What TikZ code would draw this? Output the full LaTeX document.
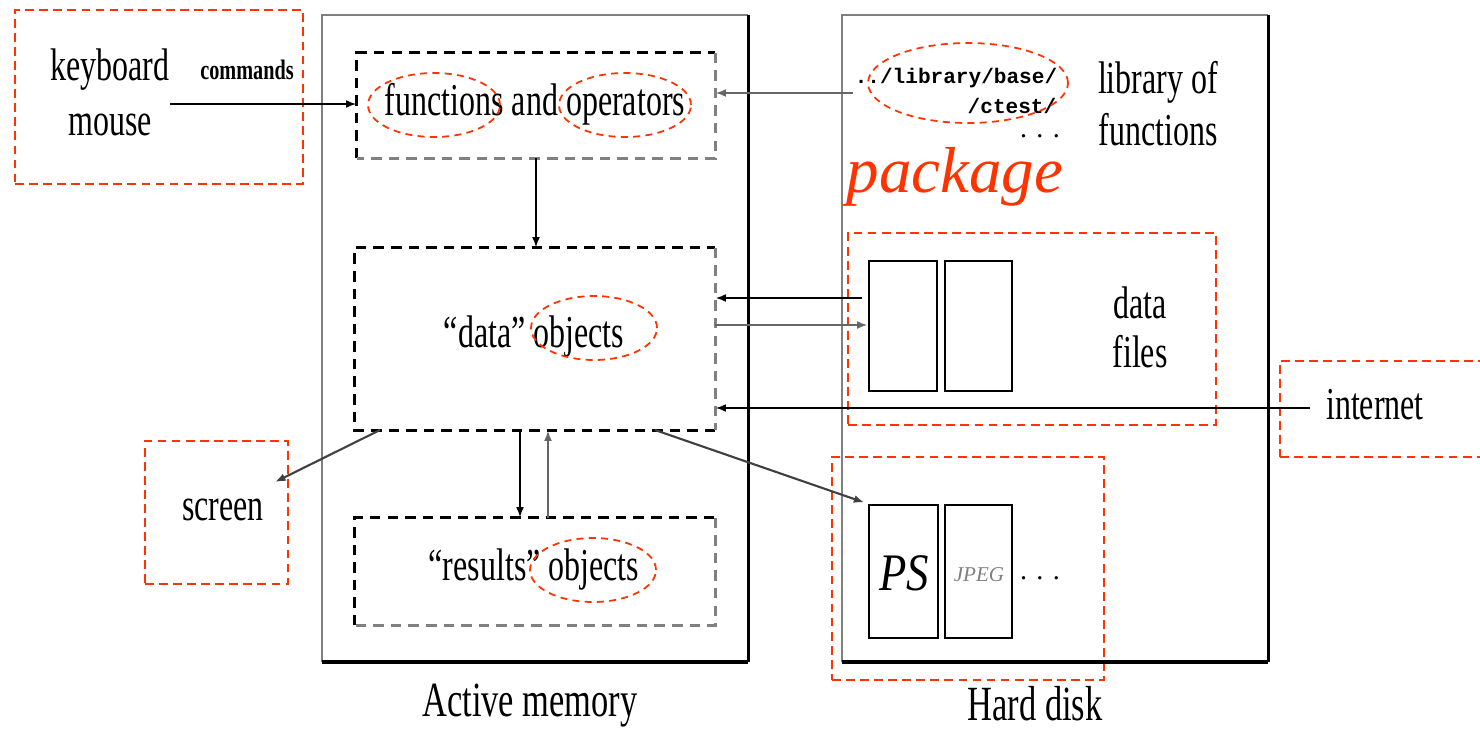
\documentclass[tikz,border=0pt]{standalone}
\usepackage{fontspec}
\setmainfont{Liberation Serif}
\setmonofont{Liberation Mono}
\usetikzlibrary{fit,arrows.meta,shapes.geometric}
\definecolor{rd}{RGB}{255,51,0}
\newcommand{\nx}[1]{\scalebox{0.7}[1]{#1}}
\begin{document}
\begin{tikzpicture}[x=0.02cm,y=-0.02cm,
  box/.style={inner sep=0pt, draw=none},
  reddash/.style={draw=rd, dash pattern=on 5pt off 3pt, line width=1pt},
  bdash/.style={draw=black, dash pattern=on 6pt off 4pt, line width=1.4pt},
  gdash/.style={draw=gray, dash pattern=on 6pt off 4pt, line width=1.4pt},
  ell/.style={ellipse, draw=rd, dash pattern=on 4pt off 3pt, line width=1pt, inner sep=0pt},
  txt/.style={inner sep=0pt, font=\fontsize{26}{28}\selectfont},
  big/.style={inner sep=0pt, font=\fontsize{28}{30}\selectfont},
  arr/.style={-{Latex[length=6pt,width=4.5pt]}, line width=1.2pt},
  garr/.style={-{Latex[length=6pt,width=4.5pt]}, line width=1.2pt, draw=gray!80!black},
  filebox/.style={draw=black, line width=1.5pt}
]
\useasboundingbox (0,0) rectangle (1480,731);

% dashed red frames
\node[box, reddash, fit={(15,10) (303,184)}] (kbframe) {};
\node[box, reddash, fit={(145,441) (288,584)}] (scrframe) {};
\node[box, reddash, fit={(848,233) (1216,425)}] (dfframe) {};
\node[box, reddash, fit={(1280,361) (1490,457)}] (netframe) {};
\node[box, reddash, fit={(832,457) (1104,680)}] (imgframe) {};

% active memory and hard disk
\node[box, fit={(322,15) (748,662)}] (am) {};
\draw[gray, line width=1.3pt] (am.south west) -- (am.north west) -- (am.north east);
\draw[line width=1.3pt] (am.north east) -- (am.south east);
\draw[line width=2.4pt] (am.south west) -- (am.south east);
\node[box, fit={(842,15) (1268,662)}] (hd) {};
\draw[gray, line width=1.3pt] (hd.south west) -- (hd.north west) -- (hd.north east);
\draw[line width=1.3pt] (hd.north east) -- (hd.south east);
\draw[line width=2.4pt] (hd.south west) -- (hd.south east);

% inner dashed boxes
\node[box, fit={(357,53) (715,158)}] (func) {};
\draw[bdash] (func.south west) -- (func.north west) -- (func.north east);
\draw[gdash] (func.north east) -- (func.south east) -- (func.south west);
\node[box, fit={(355,248) (715,430)}] (data) {};
\draw[bdash] (data.south east) -- (data.south west) -- (data.north west) -- (data.north east);
\draw[gdash] (data.north east) -- (data.south east);
\node[box, fit={(355,518) (715,625)}] (res) {};
\draw[bdash] (res.south west) -- (res.north west) -- (res.north east);
\draw[gdash] (res.north east) -- (res.south east) -- (res.south west);

% file boxes
\node[box, filebox, fit={(869,261) (937,391)}] (df1) {};
\node[box, filebox, fit={(945,261) (1012,391)}] (df2) {};
\node[box, filebox, fit={(869,505) (938,638)}] (ps) {};
\node[box, filebox, fit={(945,505) (1012,638)}] (jpeg) {};

% texts
\node[txt] (kb) at (110,70) {\nx{keyboard}};
\node[txt] (mouse) at (110,125) {\nx{mouse}};
\node[inner sep=0pt, font=\bfseries\fontsize{16}{18}\selectfont] (cmd) at (247,70) {\scalebox{0.72}[1]{commands}};
\node[txt] (functxt) at (535,104) {\nx{functions and operators}};
\node[ell, minimum width=2.64cm, minimum height=1.28cm] (e1) at (434,105) {};
\node[ell, minimum width=2.64cm, minimum height=1.28cm] (e2) at (625,105) {};
\node[txt] (datatxt) at (534,337) {\nx{“data” objects}};
\node[ell, minimum width=2.52cm, minimum height=1.28cm] (e3) at (594,328) {};
\node[txt] (restxt) at (534,570) {\nx{“results” objects}};
\node[ell, minimum width=2.52cm, minimum height=1.28cm] (e4) at (593,570) {};
\node[txt] (scr) at (223,510) {\nx{screen}};

\node[inner sep=0pt, font=\ttfamily\bfseries\fontsize{12}{14}\selectfont] (lib1) at (956,78) {../library/base/};
\node[inner sep=0pt, font=\ttfamily\bfseries\fontsize{12}{14}\selectfont] (lib2) at (1012,106) {/ctest/};
\node[inner sep=0pt, font=\fontsize{16}{18}\selectfont] (libdots) at (1040,136) {. . .};
\node[ell, minimum width=4cm, minimum height=1.6cm] (e5) at (968,83) {};
\node[txt] (libof) at (1158,82) {\nx{library of}};
\node[txt] (libfun) at (1158,130) {\nx{functions}};
\node[inner sep=0pt, text=rd, font=\itshape\fontsize{37}{39}\selectfont] (pkg) at (955,177) {package};
\node[txt] (dtxt) at (1140,303) {\nx{data}};
\node[txt] (ftxt) at (1140,352) {\nx{files}};
\node[txt] (net) at (1375,405) {\nx{internet}};
\node[inner sep=0pt, font=\itshape\fontsize{30}{32}\selectfont] (pstxt) at (904,573) {\scalebox{0.85}[1]{PS}};
\node[inner sep=0pt, text=gray, font=\itshape\fontsize{12}{14}\selectfont] (jtxt) at (979,575) {JPEG};
\node[inner sep=0pt, font=\fontsize{16}{18}\selectfont] (idots) at (1040,578) {. . .};
\node[big] (amlab) at (530,706) {\nx{Active memory}};
\node[big] (hdlab) at (1035,704) {\nx{Hard disk}};

% connectors
\coordinate (kbs) at (170,104);
\draw[arr] (kbs) -- (kbs -| func.west);
\draw[arr] (func.south) -- (func.south |- data.north);
\coordinate (libs) at (853,93);
\draw[garr] (libs) -- (libs -| func.east);
\coordinate (dfin) at (862,298);
\draw[arr] (dfin) -- (dfin -| data.east);
\coordinate (dfout) at (715,325);
\draw[garr] (dfout) -- (dfout -| df1.west);
\coordinate (nets) at (1310,408);
\draw[arr] (nets) -- (nets -| data.east);
\coordinate (d2r) at (520,430);
\draw[arr] (d2r) -- (d2r |- res.north);
\coordinate (r2d) at (548,518);
\draw[garr] (r2d) -- (r2d |- data.south);
\coordinate (dscr) at (380,430);
\coordinate (scrtip) at (275,482);
\draw[arr, draw=black!75] (dscr) -- (scrtip);
\coordinate (dps) at (655,430);
\draw[arr, draw=black!75, shorten >=2pt] (dps) -- (ps.north west);
\end{tikzpicture}
\end{document}
